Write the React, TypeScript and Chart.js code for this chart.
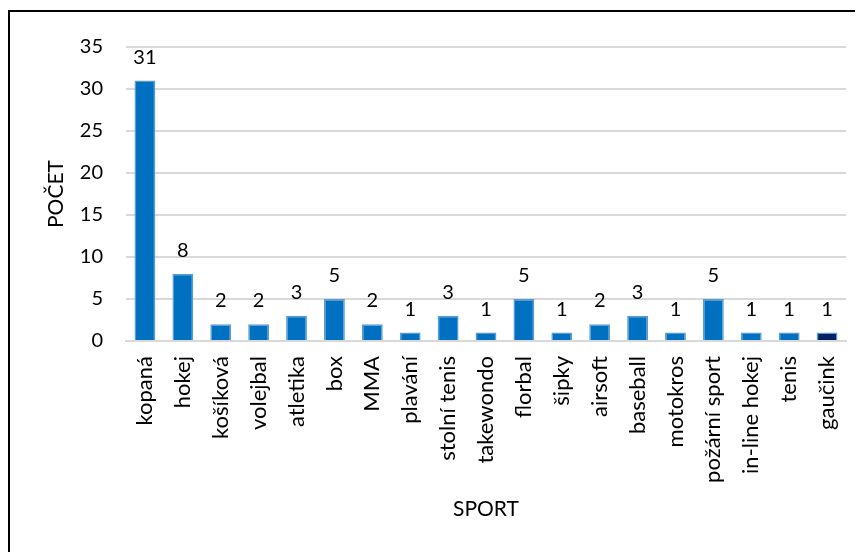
import React, { useEffect, useRef } from "react";
import { Chart, registerables } from "chart.js";
Chart.register(...registerables);

const categories = [
  "kopaná", "hokej", "košíková", "volejbal", "atletika", "box", "MMA", "plavání",
  "stolní tenis", "takewondo", "florbal", "šipky", "airsoft", "baseball", "motokros",
  "požární sport", "in-line hokej", "tenis", "gaučink",
];
const counts = [31, 8, 2, 2, 3, 5, 2, 1, 3, 1, 5, 1, 2, 3, 1, 5, 1, 1, 1];
const yMin = 0;
const yMax = 35;
const yStep = 5;
const yTitle = "POČET";
const xTitle = "SPORT";

const FONT = "Lato";

export default function App() {
  const ref = useRef<HTMLCanvasElement | null>(null);
  useEffect(() => {
    document.documentElement.style.overflow = "hidden";
    let chart: Chart | null = null;
    let cancelled = false;
    const make = () => {
      if (cancelled || !ref.current) return;
      const labelPlugin = {
        id: "valueLabels",
        afterDatasetsDraw(c: any) {
          const ctx = c.ctx;
          const meta = c.getDatasetMeta(0);
          ctx.save();
          ctx.font = `20px ${FONT}`;
          ctx.fillStyle = "#000";
          ctx.textAlign = "center";
          ctx.textBaseline = "alphabetic";
          meta.data.forEach((bar: any, i: number) => {
            ctx.fillText(String(counts[i]), bar.x, bar.y - 17);
          });
          ctx.restore();
        },
      };
      chart = new Chart(ref.current, {
        type: "bar",
        data: {
          labels: categories,
          datasets: [
            {
              data: counts,
              backgroundColor: counts.map((_, i) => (i === counts.length - 1 ? "#002060" : "#0070C0")),
              borderColor: "#5B9BD5",
              borderWidth: 1.5,
              barPercentage: 0.55,
              categoryPercentage: 1,
            },
          ],
        },
        options: {
          responsive: false,
          animation: false,
          layout: { padding: { left: 30, top: 28, right: 24, bottom: 26 } },
          plugins: { legend: { display: false }, tooltip: { enabled: false } },
          scales: {
            x: {
              grid: { display: false, drawTicks: false },
              border: { color: "#d9d9d9", width: 2 },
              ticks: {
                color: "#000",
                font: { family: FONT, size: 22 },
                minRotation: 90,
                maxRotation: 90,
                padding: 15,
                autoSkip: false,
              },
              title: { display: true, text: xTitle, color: "#000", font: { family: FONT, size: 21 } },
              afterFit: (s: any) => { s.height = 185; },
            },
            y: {
              min: yMin,
              max: yMax,
              grid: { color: "#d9d9d9", lineWidth: 2, drawTicks: false },
              border: { display: false },
              ticks: {
                stepSize: yStep,
                color: "#000",
                font: { family: FONT, size: 20 },
                padding: 23,
              },
              title: { display: true, text: yTitle, color: "#000", font: { family: FONT, size: 21 } },
              afterFit: (s: any) => { s.width = 86; },
            },
          },
        },
        plugins: [labelPlugin],
      });
    };
    const fonts = (document as any).fonts;
    if (fonts && fonts.load) {
      Promise.all([fonts.load(`20px ${FONT}`), fonts.load(`22px ${FONT}`)]).then(make, make);
    } else make();
    return () => {
      cancelled = true;
      if (chart) chart.destroy();
    };
  }, []);
  return (
    <div style={{ marginTop: 2, border: "2px solid #000", width: 860, height: 540, background: "#fff" }}>
      <canvas ref={ref} width={860} height={540} style={{ display: "block" }} />
    </div>
  );
}
